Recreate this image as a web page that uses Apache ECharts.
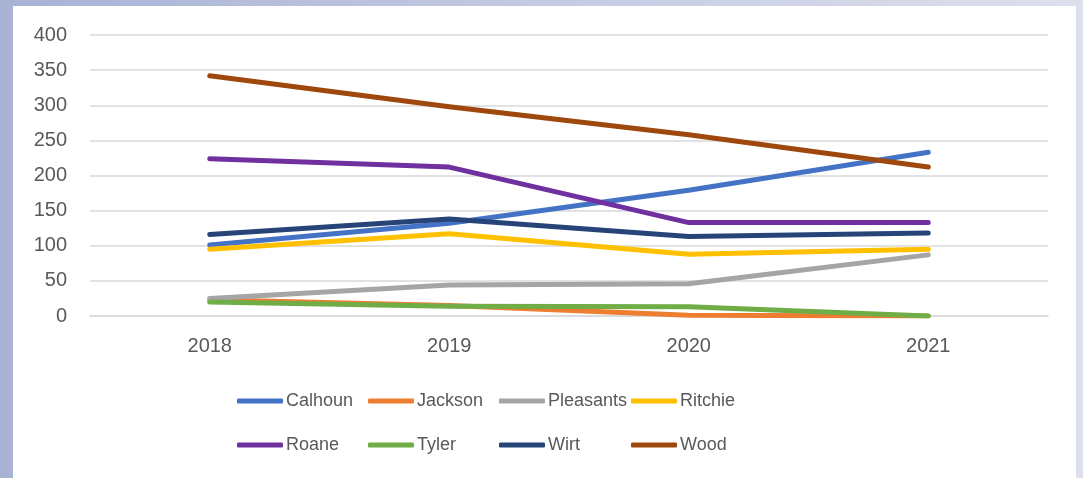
<!DOCTYPE html>
<html>
<head>
<meta charset="utf-8">
<script src="https://cdn.jsdelivr.net/npm/echarts@6/dist/echarts.min.js"></script>
<style>
html,body{margin:0;padding:0;width:1083px;height:478px;overflow:hidden;
background:linear-gradient(to right,#a8b2d5 0%,#c4cae2 50%,#dde0ec 100%);}
#panel{position:absolute;left:13px;top:6px;width:1063px;height:472px;background:#fff;}
#chart{position:absolute;left:0;top:0;width:1083px;height:478px;}
</style>
</head>
<body>
<div id="panel"></div>
<div id="chart"></div>
<script>
const categories = ['2018', '2019', '2020', '2021'];
const seriesNames = ['Calhoun', 'Jackson', 'Pleasants', 'Ritchie', 'Roane', 'Tyler', 'Wirt', 'Wood'];
const calhoun   = [101, 132, 179, 233];
const jackson   = [23, 15, 1, 0];
const pleasants = [25, 44, 46, 87];
const ritchie   = [95, 117, 88, 95];
const roane     = [224, 212, 133, 133];
const tyler     = [20, 14, 13, 0];
const wirt      = [116, 138, 113, 118];
const wood      = [342, 298, 258, 212];
const yTicks = [0, 50, 100, 150, 200, 250, 300, 350, 400];

const values = [calhoun, jackson, pleasants, ritchie, roane, tyler, wirt, wood];
const colors = ['#4472C4', '#ED7D31', '#A5A5A5', '#FFC000', '#7030A0', '#70AD47', '#264478', '#9E480E'];

const chart = echarts.init(document.getElementById('chart'), null, {renderer: 'canvas'});
const legendCols = [237, 368, 499, 631];
const legendRows = [392, 436];
const legends = seriesNames.map((n, i) => ({
  orient: 'horizontal',
  left: legendCols[i % 4],
  top: legendRows[Math.floor(i / 4)],
  padding: 0,
  itemWidth: 46,
  itemHeight: 5,
  icon: 'roundRect',
  textStyle: {fontFamily: 'Liberation Sans', fontSize: 18, color: '#595959', padding: [0, 0, 0, -2]},
  data: [n]
}));
chart.setOption({
  animation: false,
  backgroundColor: 'transparent',
  legend: legends,
  grid: {left: 90, right: 35, top: 35, bottom: 162, containLabel: false},
  xAxis: {
    type: 'category',
    data: categories,
    boundaryGap: true,
    axisLine: {show: true, lineStyle: {color: '#d9d9d9', width: 1.5}},
    axisTick: {show: false},
    axisLabel: {fontFamily: 'Liberation Sans', fontSize: 20, color: '#595959', margin: 20}
  },
  yAxis: {
    type: 'value',
    min: yTicks[0],
    max: yTicks[yTicks.length - 1],
    interval: 50,
    axisLine: {show: false},
    axisTick: {show: false},
    splitLine: {lineStyle: {color: '#d9d9d9', width: 1.5}},
    axisLabel: {fontFamily: 'Liberation Sans', fontSize: 20, color: '#595959', margin: 23}
  },
  series: seriesNames.map((n, i) => ({
    name: n,
    type: 'line',
    data: values[i],
    symbol: 'none',
    color: colors[i],
    lineStyle: {width: 5, cap: 'round', join: 'round', color: colors[i]}
  }))
});
</script>
</body>
</html>
